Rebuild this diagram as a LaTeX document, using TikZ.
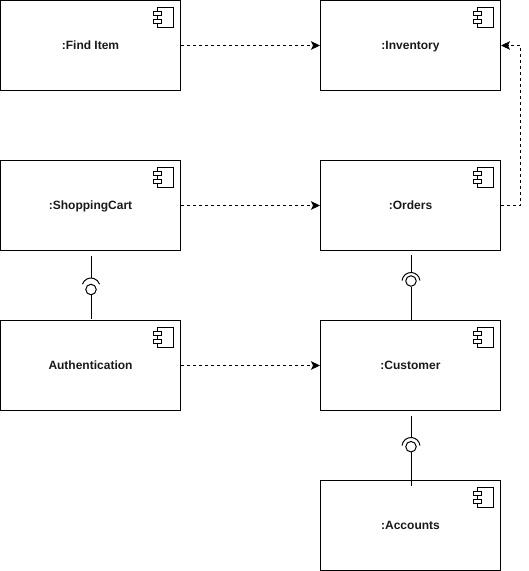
\documentclass[tikz,border=0pt]{standalone}
\usepackage{fontspec}
\setmainfont{Liberation Sans}
\usetikzlibrary{arrows.meta,calc}
\tikzset{
  x=1pt,y=-1pt,
  comp/.style={draw=black,line width=1pt,minimum width=180pt,minimum height=90pt,inner sep=0pt,text height=10pt,text depth=2pt,font=\fontsize{12}{14}\selectfont\bfseries,text=black!90},
  dep/.style={draw=black,line width=.9pt,dash pattern=on 3pt off 3pt,-{Stealth[length=9pt,width=8.5pt,inset=2pt]}},
  wire/.style={draw=black,line width=1pt},
  ball/.style={circle,draw=black,line width=1pt,minimum size=10.5pt,inner sep=0pt,fill=white},
  iconpart/.style={draw=black,line width=1pt,fill=white},
}
\newcommand{\compicon}[1]{%
  \draw[iconpart] ($(#1.north east)+(-23.5,7)$) rectangle ($(#1.north east)+(-7.5,27)$);
  \draw[iconpart] ($(#1.north east)+(-27.5,11)$) rectangle ($(#1.north east)+(-19.5,15)$);
  \draw[iconpart] ($(#1.north east)+(-27.5,19)$) rectangle ($(#1.north east)+(-19.5,23)$);
}
% #1 centre, #2 half-angle below the top measured from horizontal
\newcommand{\socket}[2]{%
  \draw[wire] ($(#1)+({-9*cos(#2)},{-9*sin(#2)})$) arc[start angle={180-#2},end angle=#2,x radius=9,y radius=-9];
}
\begin{document}
\begin{tikzpicture}
\useasboundingbox (0,0) rectangle (529,571);
\node[comp] (find) at (90.5,45.5) {:Find Item};
\node[comp] (inv) at (410.5,45.5) {:Inventory};
\node[comp] (cart) at (90.5,205.5) {:ShoppingCart};
\node[comp] (ord) at (410.5,205.5) {:Orders};
\node[comp] (auth) at (90.5,365.5) {Authentication};
\node[comp] (cust) at (410.5,365.5) {:Customer};
\node[comp] (acc) at (410.5,525.5) {:Accounts};
\foreach \n in {find,inv,cart,ord,auth,cust,acc}{\compicon{\n}}
\draw[dep] (find) -- (inv);
\draw[dep] (cart) -- (ord);
\draw[dep] (auth) -- (cust);
\coordinate (bend) at (520.5,205.5);
\coordinate (bendtop) at (520.5,45.5);
\draw[dep] (ord.east) -- (bend) -- (bendtop) -- (inv.east);
% lollipop 1
\coordinate (a1) at (91,256);
\coordinate (a2) at (91,278);
\node[ball] (b1) at (91,289.5) {};
\coordinate (a3) at (91,319);
\draw[wire] (a1) -- (a2);
\draw[wire] (b1) -- (a3);
\coordinate (s1) at (91,287);
\socket{s1}{18}
% lollipop 2
\coordinate (c1) at (411,255);
\coordinate (c2) at (411,272.5);
\node[ball] (b2) at (411,281) {};
\coordinate (c3) at (411,320.5);
\draw[wire] (c1) -- (c2);
\draw[wire] (b2) -- (c3);
\coordinate (s2) at (411,281.5);
\socket{s2}{6}
% lollipop 3
\coordinate (d1) at (411,416);
\coordinate (d2) at (411,437.5);
\node[ball] (b3) at (411,446.7) {};
\coordinate (d3) at (411,486);
\draw[wire] (d1) -- (d2);
\draw[wire] (b3) -- (d3);
\coordinate (s3) at (411,446.5);
\socket{s3}{6}
\end{tikzpicture}
\end{document}
